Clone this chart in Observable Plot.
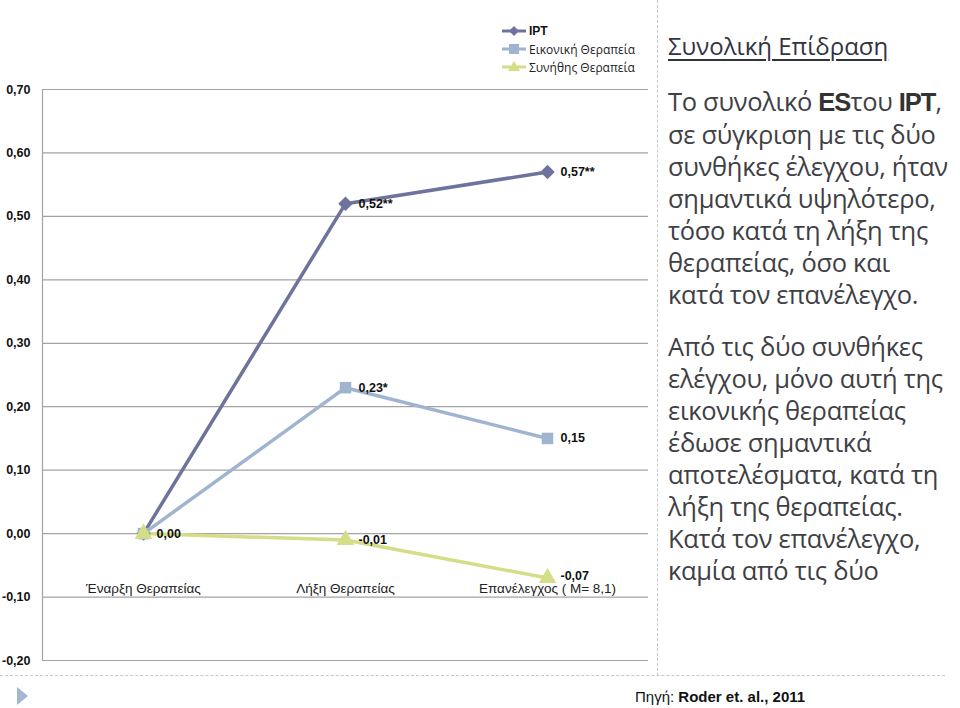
<!DOCTYPE html>
<html>
<head>
<meta charset="utf-8">
<script src="https://cdn.jsdelivr.net/npm/d3@7"></script>
<script src="https://cdn.jsdelivr.net/npm/@observablehq/plot@0.6"></script>
<style>
  html, body { margin: 0; padding: 0; background: #fff; }
  #wrap { position: relative; width: 960px; height: 708px; overflow: hidden; font-family: "Liberation Sans", Arial, sans-serif; }
  #chart { position: absolute; left: 0; top: 0; }
  .vdash { position: absolute; left: 657px; top: 0; height: 676px; border-left: 1.5px dashed #c8c8c8; }
  .hdash { position: absolute; left: 0; top: 675px; width: 945px; border-top: 1.5px dashed #c8c8c8; }
  #legend { position: absolute; left: 500px; top: 22px; font-size: 12px; }
  #legend .row { display: flex; align-items: center; height: 18px; }
  #legend .lab { font-family: "Open Sans", sans-serif; color: #222; margin-left: 1px; font-size: 12px; }
  #panel { position: absolute; left: 668px; top: 28px; width: 292px; color: #3f3f46; font-family: "Open Sans", sans-serif; white-space: nowrap; }
  #panel h2 { margin: 0; font-size: 24px; font-weight: 500; text-decoration: underline; text-decoration-thickness: 1.5px; text-underline-offset: 4px; color: #33333f; line-height: 36px; }
  #panel p { margin: 0; font-size: 25.5px; line-height: 32px; letter-spacing: -0.3px; }
  #panel p.p1 { margin-top: 21px; }
  #panel p.p2 { margin-top: 20px; }
  #panel b { font-family: "Liberation Sans", Arial, sans-serif; color: #333; letter-spacing: -1px; }
  #source { position: absolute; left: 635px; top: 688px; font-size: 15px; color: #111; }
  #bullet { position: absolute; left: 17px; top: 687px; width: 0; height: 0; border-top: 9px solid transparent; border-bottom: 9px solid transparent; border-left: 11px solid #a3b7cf; }
</style>
</head>
<body>
<div id="wrap">
  <div id="chart"></div>
  <div class="vdash"></div>
  <div class="hdash"></div>
  <div id="legend"></div>
  <div id="panel">
    <h2>Συνολική Επίδραση</h2>
    <p class="p1">Το συνολικό <b>ES</b>του <b>IPT</b>,<br>σε σύγκριση με τις δύο<br>συνθήκες έλεγχου, ήταν<br>σημαντικά υψηλότερο,<br>τόσο κατά τη λήξη της<br>θεραπείας, όσο και<br>κατά τον επανέλεγχο.</p>
    <p class="p2">Από τις δύο συνθήκες<br>ελέγχου, μόνο αυτή της<br>εικονικής θεραπείας<br>έδωσε σημαντικά<br>αποτελέσματα, κατά τη<br>λήξη της θεραπείας.<br>Κατά τον επανέλεγχο,<br>καμία από τις δύο</p>
  </div>
  <div id="bullet"></div>
  <div id="source">Πηγή: <b>Roder et. al., 2011</b></div>
</div>
<script>
// ---- data ----
const categories = ["Έναρξη Θεραπείας", "Λήξη Θεραπείας", "Επανέλεγχος ( M= 8,1)"];
const seriesNames = ["IPT", "Εικονική Θεραπεία", "Συνήθης Θεραπεία"];
const iptValues = [0.00, 0.52, 0.57];
const placeboValues = [0.00, 0.23, 0.15];
const usualValues = [0.00, -0.01, -0.07];
const iptLabels = ["", "0,52**", "0,57**"];
const placeboLabels = ["0,00", "0,23*", "0,15"];
const usualLabels = ["", "-0,01", "-0,07"];
const yTicks = [-0.2, -0.1, 0, 0.1, 0.2, 0.3, 0.4, 0.5, 0.6, 0.7];

const colors = ["#6e739c", "#9fb5cf", "#d5dd86"];
const symbols = ["diamond2", "square", "triangle"];

const valueSets = [iptValues, placeboValues, usualValues];
const labelSets = [iptLabels, placeboLabels, usualLabels];
const rows = [];
seriesNames.forEach((s, i) => {
  categories.forEach((c, j) => {
    rows.push({series: s, cat: c, value: valueSets[i][j], label: labelSets[i][j]});
  });
});
const fmt = v => d3.format(".2f")(v).replace(".", ",").replace("−", "-");
const labelRows = rows.filter(d => d.label !== "");
const lowRows = labelRows.filter(d => d.value < -0.05);
const otherRows = labelRows.filter(d => !(d.value < -0.05));

const chart = Plot.plot({
  width: 660,
  height: 708,
  marginLeft: 42,
  marginRight: 12,
  marginTop: 89,
  marginBottom: 48,
  style: {fontFamily: "'Liberation Sans', Arial, sans-serif", background: "transparent"},
  x: {domain: categories, type: "band", padding: 0, axis: null},
  y: {domain: [-0.2, 0.7], ticks: yTicks, axis: null},
  color: {domain: seriesNames, range: colors},
  symbol: {domain: seriesNames, range: symbols},
  marks: [
    Plot.gridY(yTicks, {stroke: "#a3a3a3", strokeOpacity: 1, strokeWidth: 1.2}),
    Plot.frame({anchor: "left", stroke: "#a3a3a3", strokeWidth: 1.2}),
    Plot.axisY(yTicks, {label: null, tickSize: 0, tickPadding: 12, tickFormat: fmt, fontSize: 12.5, fontWeight: "bold", fill: "#111"}),
    Plot.axisX({label: null, anchor: "bottom", tickSize: 0, tickPadding: 0, dy: -77, fontSize: 13.5, fill: "#222"}),
    Plot.line(rows, {x: "cat", y: "value", z: "series", stroke: "series", strokeWidth: 3.5}),
    Plot.dot(rows, {x: "cat", y: "value", symbol: "series", fill: "series", stroke: "none", r: 6.5}),
    Plot.text(otherRows, {x: "cat", y: "value", text: "label", dx: 13, textAnchor: "start", fontSize: 12.5, fontWeight: "bold", fill: "#111"}),
    Plot.text(lowRows, {x: "cat", y: "value", text: "label", dx: 13, dy: -2, textAnchor: "start", fontSize: 12.5, fontWeight: "bold", fill: "#111"})
  ]
});
document.getElementById("chart").appendChild(chart);

// ---- legend ----
const legend = document.getElementById("legend");
seriesNames.forEach((s, i) => {
  const row = document.createElement("div");
  row.className = "row";
  const w = 28, h = 16;
  let marker = "";
  if (i === 0) marker = `<path d="M14,3 L19,8 L14,13 L9,8 Z" fill="${colors[i]}"/>`;
  if (i === 1) marker = `<rect x="9" y="3" width="10" height="10" fill="${colors[i]}"/>`;
  if (i === 2) marker = `<path d="M14,2 L20,12 L8,12 Z" fill="${colors[i]}"/>`;
  row.innerHTML = `<svg width="${w}" height="${h}"><line x1="2" x2="26" y1="8" y2="8" stroke="${colors[i]}" stroke-width="3"/>${marker}</svg>` +
    `<span class="lab" style="${i === 0 ? "font-family:'Liberation Sans',Arial,sans-serif;font-weight:bold;color:#111" : ""}">${s}</span>`;
  legend.appendChild(row);
});
</script>
</body>
</html>
